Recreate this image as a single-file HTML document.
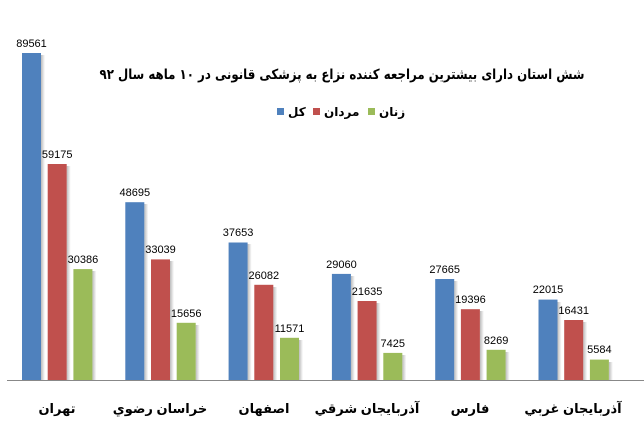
<!DOCTYPE html>
<html><head><meta charset="utf-8"><style>
body{margin:0;background:#fff}
svg text{font-family:"Liberation Sans","DejaVu Sans",sans-serif}
</style></head><body>
<svg width="644" height="429" xmlns="http://www.w3.org/2000/svg">
<defs>
<linearGradient id="sh" x1="0" x2="1"><stop offset="0" stop-color="#bbb"/><stop offset="1" stop-color="#fff"/></linearGradient>
</defs>
<text x="342" y="79" text-anchor="middle" font-size="14" font-weight="bold" direction="rtl" textLength="485" lengthAdjust="spacingAndGlyphs" style="font-family:'DejaVu Sans',sans-serif">شش استان دارای بیشترین مراجعه کننده نزاع به پزشکی قانونی در ۱۰ ماهه سال ۹۲</text>
<g font-size="12" font-weight="bold" style="font-family:'DejaVu Sans',sans-serif">
<rect x="277" y="108" width="7" height="7" fill="#4f81bd"/><text x="288" y="116">کل</text>
<rect x="313" y="108" width="7" height="7" fill="#c0504d"/><text x="324" y="116">مردان</text>
<rect x="368" y="108" width="7" height="7" fill="#9bbb59"/><text x="379" y="116">زنان</text>
</g>
<line x1="7" y1="380.5" x2="644" y2="380.5" stroke="#888" stroke-width="1"/>
<g fill="url(#sh)">
<rect x="41" y="55" width="4" height="325"/><rect x="66.7" y="166" width="4" height="214"/><rect x="92.4" y="271" width="4" height="109"/>
<rect x="144.3" y="204" width="4" height="176"/><rect x="170" y="261" width="4" height="119"/><rect x="195.7" y="325" width="4" height="55"/>
<rect x="247.6" y="244" width="4" height="136"/><rect x="273.3" y="287" width="4" height="93"/><rect x="299" y="340" width="4" height="40"/>
<rect x="350.9" y="276" width="4" height="104"/><rect x="376.6" y="303" width="4" height="77"/><rect x="402.3" y="355" width="4" height="25"/>
<rect x="454.2" y="281" width="4" height="99"/><rect x="479.9" y="311" width="4" height="69"/><rect x="505.6" y="352" width="4" height="28"/>
<rect x="557.5" y="302" width="4" height="78"/><rect x="583.2" y="322" width="4" height="58"/><rect x="608.9" y="362" width="4" height="18"/>
</g>
<g fill="#4f81bd">
<rect x="22" y="53" width="19" height="327"/><rect x="125.3" y="202.2" width="19" height="177.8"/><rect x="228.6" y="242.5" width="19" height="137.5"/>
<rect x="331.9" y="273.9" width="19" height="106.1"/><rect x="435.2" y="279" width="19" height="101"/><rect x="538.5" y="299.6" width="19" height="80.4"/>
</g>
<g fill="#c0504d">
<rect x="47.7" y="164" width="19" height="216"/><rect x="151" y="259.4" width="19" height="120.6"/><rect x="254.3" y="284.8" width="19" height="95.2"/>
<rect x="357.6" y="301" width="19" height="79"/><rect x="460.9" y="309.2" width="19" height="70.8"/><rect x="564.2" y="320" width="19" height="60"/>
</g>
<g fill="#9bbb59">
<rect x="73.4" y="269.1" width="19" height="110.9"/><rect x="176.7" y="322.8" width="19" height="57.2"/><rect x="280" y="337.8" width="19" height="42.2"/>
<rect x="383.3" y="352.9" width="19" height="27.1"/><rect x="486.6" y="349.8" width="19" height="30.2"/><rect x="589.9" y="359.6" width="19" height="20.4"/>
</g>
<g font-size="11" text-anchor="middle">
<text x="31.5" y="47">89561</text><text x="57.2" y="158">59175</text><text x="82.9" y="263">30386</text>
<text x="134.8" y="196">48695</text><text x="160.5" y="253">33039</text><text x="186.2" y="317">15656</text>
<text x="238.1" y="236">37653</text><text x="263.8" y="279">26082</text><text x="289.5" y="332">11571</text>
<text x="341.4" y="268">29060</text><text x="367.1" y="295">21635</text><text x="392.8" y="347">7425</text>
<text x="444.7" y="273">27665</text><text x="470.4" y="303">19396</text><text x="496.1" y="344">8269</text>
<text x="548" y="293">22015</text><text x="573.7" y="314">16431</text><text x="599.4" y="353">5584</text>
</g>
<g font-size="13" font-weight="bold" text-anchor="middle" style="font-family:'DejaVu Sans',sans-serif">
<text x="57" y="413">تهران</text>
<text x="160" y="413">خراسان رضوي</text>
<text x="264" y="413">اصفهان</text>
<text x="367" y="413">آذربايجان شرقي</text>
<text x="470" y="413">فارس</text>
<text x="573" y="413">آذربايجان غربي</text>
</g>
</svg>
</body></html>
